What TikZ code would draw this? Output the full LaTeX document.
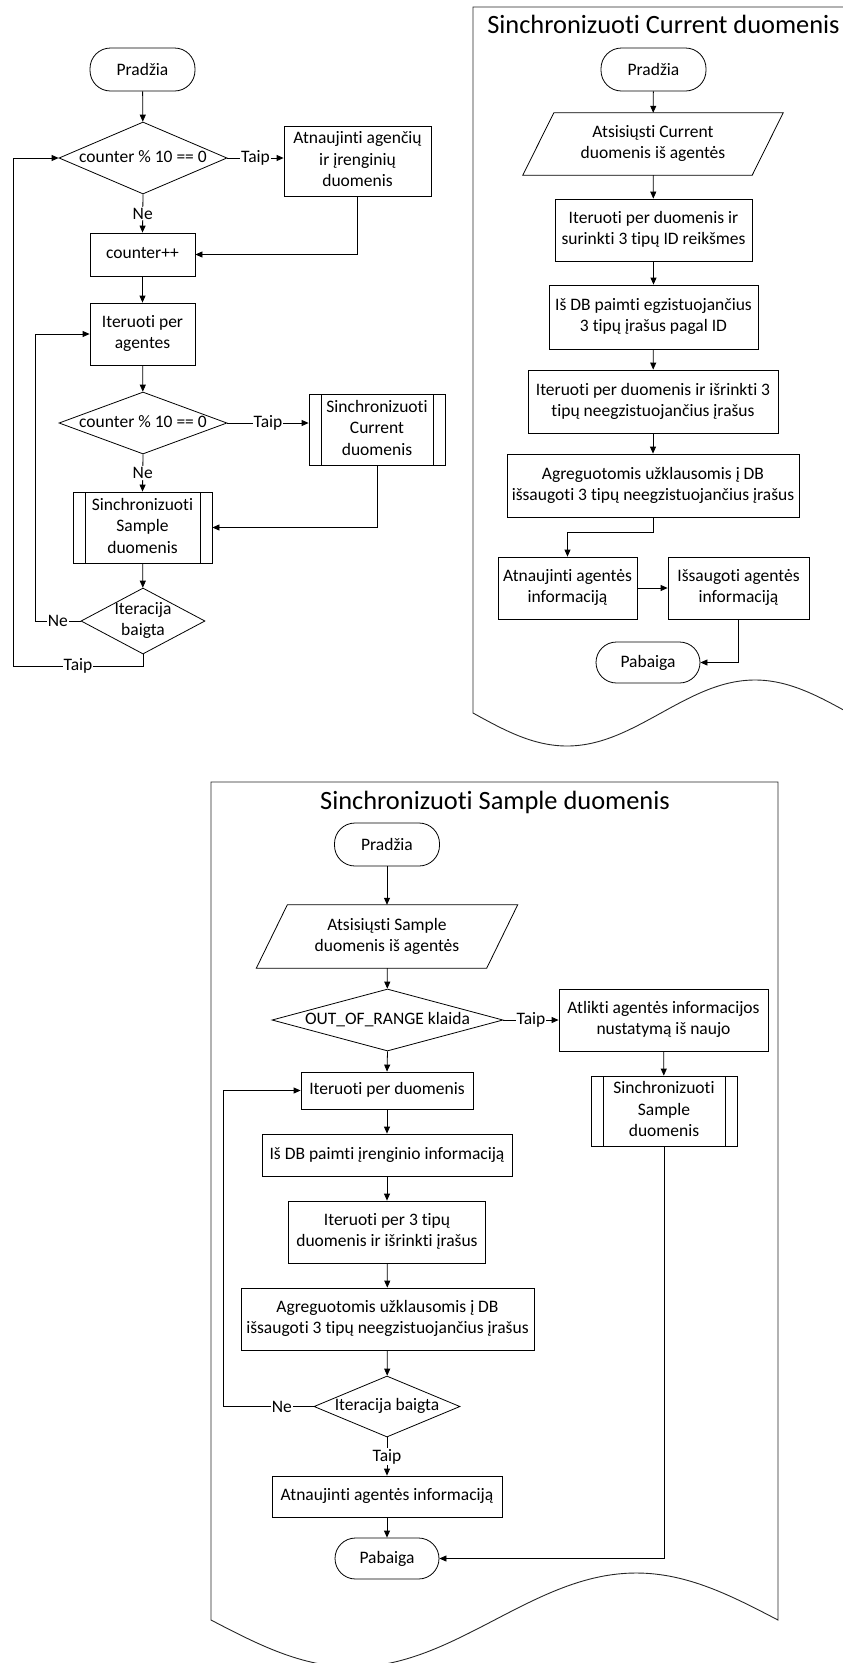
\documentclass[tikz,border=0pt]{standalone}
\usepackage{fontspec}
\setmainfont{Carlito}[Ligatures={CommonOff,ContextualOff},RawFeature={-liga;-clig;-dlig;-calt}]
\usetikzlibrary{arrows.meta,shapes.geometric,calc}

% centred text that never widens its node: node sizes are set explicitly
\newcommand\ctext[1]{\makebox[0pt][c]{\begin{tabular}{@{}c@{}}#1\end{tabular}}}

\begin{document}
\begin{tikzpicture}[x=1pt,y=-1pt,
  every node/.style={font=\fontsize{17.5}{21.3}\selectfont, inner sep=0pt},
  sz/.style 2 args={minimum width=#1, minimum height=#2},
  box/.style={draw, rectangle, line width=0.8pt},
  term/.style={draw, rectangle, rounded corners=20.5pt, line width=0.8pt},
  io/.style={rectangle},
  dec/.style={draw, diamond, line width=0.8pt},
  sub/.style={box, path picture={
      \draw[line width=0.8pt]
        ([xshift=12pt]path picture bounding box.north west) -- ([xshift=12pt]path picture bounding box.south west)
        ([xshift=-12pt]path picture bounding box.north east) -- ([xshift=-12pt]path picture bounding box.south east);}},
  arr/.style={line width=0.8pt, -{Triangle[length=7pt,width=6pt]}},
  lbl/.style={fill=white, inner sep=1pt},
  frame/.style={draw=black!85, line width=0.9pt},
  ttl/.style={anchor=base, font=\fontsize{26.4}{32}\selectfont}
]
\useasboundingbox (0,0) rectangle (843,1663);
\clip (0,0) rectangle (843,1663);

% ---------------- main loop ----------------
\node[term, sz={105}{43}] (s1) at (142.5,69.5) {Pradžia};
\node[dec, sz={168}{72}] (d1) at (143,158) {\ctext{counter \% 10 == 0}};
\node[box, sz={147}{70}] (b1) at (357.5,161) {\ctext{Atnaujinti agenčių\\ir įrenginių\\duomenis}};
\node[box, sz={105}{43}] (b2) at (142.5,254.5) {\ctext{counter++}};
\node[box, sz={105}{62}] (b3) at (142.5,334) {\ctext{Iteruoti per\\agentes}};
\node[dec, sz={168}{62}] (d2) at (143,423) {\ctext{counter \% 10 == 0}};
\node[sub, sz={136}{71}] (p1) at (377,429.5) {\ctext{Sinchronizuoti\\Current\\duomenis}};
\node[sub, sz={139}{71}] (p2) at (142.5,527.5) {\ctext{Sinchronizuoti\\Sample\\duomenis}};
\node[dec, sz={124}{66}] (d3) at (143,621) {\ctext{Iteracija\\baigta}};

\coordinate (xo) at (13,0);
\coordinate (xi) at (35,0);
\coordinate (yb) at (0,666);

\draw[arr] (s1) -- (d1);
\draw[arr] (d1.east) -- node[lbl]{Taip} (d1.east -| b1.west);
\draw[arr] (d1.south) -- node[lbl]{Ne} (b2.north);
\draw[arr] (b1.south) |- (b2.east);
\draw[arr] (b2) -- (b3);
\draw[arr] (b3) -- (d2);
\draw[arr] (d2.east) -- node[lbl]{Taip} (d2.east -| p1.west);
\draw[arr] (d2.south) -- node[lbl]{Ne} (p2.north);
\draw[arr] (p1.south) |- (p2.east);
\draw[arr] (p2) -- (d3);
\draw[arr] (d3.west) -- node[lbl]{Ne} (xi |- d3.west) |- (b3.west);
\draw[arr] (d3.south) -- (d3.south |- yb) -- node[lbl]{Taip} (xo |- yb) |- (d1.west);

% ---------------- Current synchronisation ----------------
\draw[frame] (473,7) -- (473,713) sin (567,746) cos (661,713) sin (755,680) cos (849,713) -- (849,7) -- cycle;
\node[ttl] (ctitle) at (663.5,33) {Sinchronizuoti Current duomenis};

\node[term, sz={105}{43}] (cs) at (653.5,69.5) {Pradžia};
\node[io, sz={260}{62}] (cio) at (653,144) {\ctext{Atsisiųsti Current\\duomenis iš agentės}};
\draw[line width=0.8pt] (cio.south west) -- ([xshift=-31pt]cio.south east) -- (cio.north east) -- ([xshift=31pt]cio.north west) -- cycle;
\node[box, sz={197}{62}] (cb1) at (653.5,230) {\ctext{Iteruoti per duomenis ir\\surinkti 3 tipų ID reikšmes}};
\node[box, sz={209}{64}] (cb2) at (653.5,317) {\ctext{Iš DB paimti egzistuojančius\\3 tipų įrašus pagal ID}};
\node[box, sz={250}{63}] (cb3) at (653,401.5) {\ctext{Iteruoti per duomenis ir išrinkti 3\\tipų neegzistuojančius įrašus}};
\node[box, sz={292}{63}] (cb4) at (653,485.5) {\ctext{Agreguotomis užklausomis į DB\\išsaugoti 3 tipų neegzistuojančius įrašus}};
\node[box, sz={139}{62}] (cb5) at (567.5,588) {\ctext{Atnaujinti agentės\\informaciją}};
\node[box, sz={141}{62}] (cb6) at (738.5,588) {\ctext{Išsaugoti agentės\\informaciją}};
\node[term, sz={104}{41}] (ce) at (648,662.5) {Pabaiga};

\coordinate (cy) at (0,532);
\draw[arr] (cs) -- (cio);
\draw[arr] (cio) -- (cb1);
\draw[arr] (cb1) -- (cb2);
\draw[arr] (cb2) -- (cb3);
\draw[arr] (cb3) -- (cb4);
\draw[arr] (cb4.south) -- (cb4.south |- cy) -| (cb5.north);
\draw[arr] (cb5) -- (cb6);
\draw[arr] (cb6.south) |- (ce.east);

% ---------------- Sample synchronisation ----------------
\draw[frame] (211,782) -- (211,1620) sin (352.75,1667) cos (494.5,1620) sin (636.25,1573) cos (778,1620) -- (778,782) -- cycle;
\node[ttl] (stitle) at (495,809) {Sinchronizuoti Sample duomenis};

\node[term, sz={105}{43}] (ss) at (387,844.5) {Pradžia};
\node[io, sz={261}{63}] (sio) at (387,936.5) {\ctext{Atsisiųsti Sample\\duomenis iš agentės}};
\draw[line width=0.8pt] (sio.south west) -- ([xshift=-31pt]sio.south east) -- (sio.north east) -- ([xshift=31pt]sio.north west) -- cycle;
\node[dec, sz={231}{62}] (sd1) at (387.5,1020) {\ctext{OUT\_OF\_RANGE klaida}};
\node[box, sz={209}{62}] (sb0) at (663.5,1020) {\ctext{Atlikti agentės informacijos\\nustatymą iš naujo}};
\node[sub, sz={146}{70}] (ssub) at (664,1111) {\ctext{Sinchronizuoti\\Sample\\duomenis}};
\node[box, sz={172}{37}] (sb1) at (387,1090.5) {\ctext{Iteruoti per duomenis}};
\node[box, sz={250}{42}] (sb2) at (387,1155) {\ctext{Iš DB paimti įrenginio informaciją}};
\node[box, sz={197}{62}] (sb3) at (387,1232) {\ctext{Iteruoti per 3 tipų\\duomenis ir išrinkti įrašus}};
\node[box, sz={293}{62}] (sb4) at (387.5,1319) {\ctext{Agreguotomis užklausomis į DB\\išsaugoti 3 tipų neegzistuojančius įrašus}};
\node[dec, sz={146}{61}] (sd2) at (387,1406.5) {\ctext{Iteracija baigta}};
\node[box, sz={230}{41}] (sb5) at (387,1496.5) {\ctext{Atnaujinti agentės informaciją}};
\node[term, sz={104}{41}] (se) at (387,1558.5) {Pabaiga};

\coordinate (sxi) at (223,0);
\draw[arr] (ss) -- (sio);
\draw[arr] (sio) -- (sd1);
\draw[arr] (sd1.east) -- node[lbl]{Taip} (sd1.east -| sb0.west);
\draw[arr] (sd1.south) -- (sb1.north);
\draw[arr] (sb0) -- (ssub);
\draw[arr] (sb1) -- (sb2);
\draw[arr] (sb2) -- (sb3);
\draw[arr] (sb3) -- (sb4);
\draw[arr] (sb4) -- (sd2);
\draw[arr] (sd2.west) -- node[lbl,pos=0.35]{Ne} (sxi |- sd2.west) |- (sb1.west);
\draw[arr] (sd2.south) -- node[lbl]{Taip} (sb5.north);
\draw[arr] (sb5) -- (se);
\draw[arr] (ssub.south) |- (se.east);
\end{tikzpicture}
\end{document}
